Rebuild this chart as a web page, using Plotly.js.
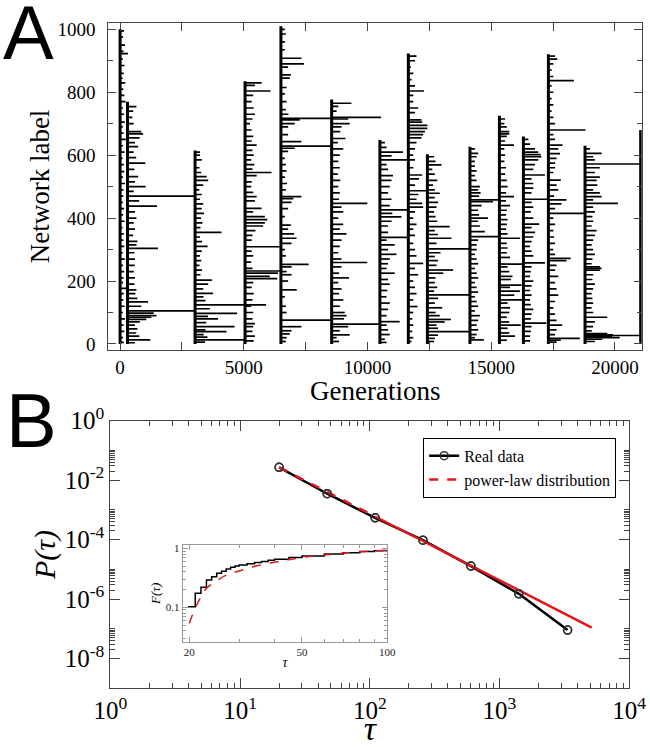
<!DOCTYPE html>
<html><head><meta charset="utf-8">
<script src="https://cdn.plot.ly/plotly-3.0.1.min.js"></script>
<style>body{margin:0;padding:0;background:#fff}#chart{width:650px;height:747px}</style>
</head><body><div id="chart"></div>
<script>
// ---------- Panel A: founding generation and top label of each column ----------
const colGen = [0, 300, 3030, 5050, 6500, 8550, 10500, 11650, 12420, 14140, 15330, 16300, 17310, 18790, 21040];
const colTop = [1000, 770, 615, 835, 1010, 777, 648, 923, 603, 627, 725, 659, 921, 630, 680];
// bars: [network label, lifetime in generations]
const barsC0 = [[995,160],[975,120],[950,200],[930,140],[923,320],[905,110],[885,180],[860,150],[845,100],[830,210],[810,130],[790,170],[770,220],[750,120],[730,160],[705,190],[690,110],[670,140],[650,230],[630,120],[610,180],[590,100],[570,150],[548,170],[530,120],[510,200],[490,140],[470,130],[450,110],[430,160],[410,120],[390,180],[370,100],[350,150],[330,130],[310,170],[290,110],[270,190],[250,120],[230,160],[210,140],[195,120],[177,300],[160,150],[140,130],[120,180],[100,110],[80,200],[60,140],[40,170],[20,120],[5,150]];
const barsC1 = [[754,360],[740,230],[720,200],[700,250],[675,560],[668,630],[655,490],[640,300],[627,430],[610,250],[592,350],[575,720],[555,280],[532,430],[515,300],[500,730],[485,250],[470,2730],[455,470],[438,1190],[420,300],[400,360],[385,250],[365,300],[345,230],[326,400],[315,360],[304,1230],[290,280],[270,300],[250,290],[230,250],[210,300],[190,280],[172,360],[160,320],[145,400],[134,830],[120,560],[105,2730],[98,1060],[90,1170],[85,960],[78,760],[70,500],[60,300],[48,400],[35,350],[25,480],[13,920],[4,300]];
const barsC2 = [[610,200],[600,200],[585,270],[560,180],[545,250],[532,470],[520,530],[505,330],[490,170],[475,270],[460,200],[445,330],[430,270],[415,360],[400,240],[385,300],[370,220],[355,1070],[340,200],[325,280],[310,510],[295,270],[280,200],[265,250],[250,180],[235,280],[220,220],[203,680],[190,530],[175,330],[161,730],[150,340],[138,420],[124,2870],[112,600],[97,1700],[88,520],[80,930],[68,450],[55,1600],[45,420],[39,1270],[30,350],[22,500],[13,2020],[6,400]];
const barsC3 = [[830,670],[822,400],[804,1030],[790,330],[770,270],[750,350],[730,400],[715,300],[700,200],[680,270],[660,330],[645,270],[632,470],[615,300],[600,350],[585,250],[570,370],[556,300],[545,1070],[535,470],[515,270],[500,250],[482,330],[468,470],[455,400],[431,670],[420,330],[405,800],[395,900],[385,800],[375,730],[360,420],[345,300],[330,270],[309,1450],[295,270],[280,330],[260,250],[240,300],[232,1450],[225,1330],[215,1000],[208,1300],[195,330],[180,270],[160,350],[140,300],[120,250],[100,330],[80,300],[65,400],[55,330],[40,300],[25,400],[10,350]];
const barsC4 = [[1000,160],[985,200],[960,160],[935,160],[908,830],[890,930],[880,290],[855,400],[845,360],[815,230],[795,160],[770,230],[745,200],[730,300],[717,2050],[712,760],[700,560],[690,290],[665,290],[643,830],[629,2050],[622,560],[612,290],[590,160],[570,200],[550,230],[530,160],[510,250],[490,200],[468,830],[462,500],[450,430],[430,290],[405,160],[378,400],[365,290],[350,530],[336,630],[320,430],[300,160],[280,200],[253,1120],[245,430],[230,230],[220,430],[200,290],[172,640],[150,160],[120,200],[100,230],[76,2050],[55,830],[42,430],[32,360],[20,230],[8,200]];
const barsC5 = [[765,800],[755,270],[740,200],[720,2000],[715,670],[700,730],[690,400],[675,350],[653,560],[640,250],[620,470],[600,330],[580,270],[560,330],[540,250],[520,350],[500,270],[480,330],[460,300],[447,1440],[435,400],[420,470],[400,270],[380,470],[365,330],[350,600],[330,400],[310,330],[290,270],[270,400],[259,1440],[245,400],[225,300],[210,700],[195,270],[175,400],[160,300],[140,470],[120,330],[100,530],[90,600],[80,500],[63,1950],[55,670],[42,330],[29,730],[20,200],[8,300]];
const barsC6 = [[640,200],[625,270],[610,930],[598,470],[585,1150],[570,270],[555,330],[535,530],[520,470],[500,400],[480,330],[460,470],[440,400],[426,1150],[415,500],[404,870],[390,470],[375,330],[355,330],[339,1150],[330,270],[315,600],[300,330],[285,670],[270,400],[255,330],[240,270],[225,600],[205,330],[190,400],[170,300],[150,270],[130,400],[110,330],[90,270],[71,800],[60,270],[45,330],[30,400],[15,200],[5,270]];
const barsC7 = [[915,330],[900,270],[880,100],[860,200],[840,130],[820,270],[804,630],[790,200],[770,200],[750,400],[735,270],[712,530],[705,560],[695,770],[685,770],[675,670],[665,600],[655,530],[640,330],[620,270],[600,200],[585,270],[560,200],[537,560],[525,430],[505,270],[487,770],[475,400],[460,330],[447,560],[435,600],[420,270],[400,200],[380,330],[365,200],[345,270],[320,200],[300,270],[280,330],[256,600],[240,270],[220,400],[200,200],[180,270],[160,330],[140,200],[119,370],[100,200],[80,160],[60,200],[40,160],[20,200],[8,130]];
const barsC8 = [[595,270],[580,330],[569,570],[555,200],[540,300],[520,400],[505,230],[490,300],[479,500],[465,300],[450,430],[435,370],[420,270],[405,330],[390,400],[373,900],[360,300],[348,430],[336,970],[320,370],[302,1720],[290,530],[278,300],[265,430],[250,370],[235,1040],[225,640],[210,330],[195,300],[180,400],[168,270],[156,1720],[145,430],[130,300],[115,600],[100,330],[90,500],[78,950],[70,700],[60,370],[50,430],[39,1720],[28,430],[18,300],[8,270]];
const barsC9 = [[620,200],[606,330],[595,270],[580,200],[565,200],[550,270],[535,200],[520,270],[500,400],[490,330],[480,430],[470,370],[458,1190],[452,930],[440,470],[425,330],[410,370],[400,730],[390,330],[375,400],[357,600],[341,1190],[330,330],[315,270],[300,270],[285,200],[270,270],[255,330],[240,200],[225,270],[210,330],[195,200],[180,270],[165,330],[150,200],[135,270],[120,330],[105,200],[90,400],[75,330],[60,270],[45,330],[30,270],[20,200],[13,560]];
const barsC10 = [[715,230],[700,200],[690,300],[675,400],[668,400],[660,300],[645,230],[632,590],[620,200],[600,230],[580,200],[560,270],[540,230],[520,300],[500,330],[480,270],[468,590],[455,270],[440,430],[425,300],[410,270],[395,330],[380,300],[365,270],[350,330],[336,830],[320,300],[305,330],[290,300],[275,430],[254,970],[245,330],[230,400],[215,530],[205,470],[187,890],[180,430],[168,830],[155,600],[140,970],[130,330],[115,430],[100,400],[85,300],[70,400],[60,860],[50,330],[35,400],[25,630],[12,300]];
const barsC11 = [[650,200],[635,270],[620,470],[610,600],[602,700],[595,730],[585,600],[570,470],[555,400],[537,870],[525,330],[510,400],[495,400],[480,330],[460,1010],[450,330],[435,400],[420,300],[400,400],[381,640],[370,330],[355,470],[340,400],[325,330],[310,270],[295,330],[280,400],[258,870],[245,330],[230,300],[215,270],[200,400],[185,330],[170,270],[155,330],[140,270],[125,300],[110,400],[95,330],[80,300],[66,930],[55,330],[40,300],[25,270],[10,270]];
const barsC12 = [[915,270],[905,360],[890,200],[870,130],[850,200],[837,1030],[820,130],[800,200],[780,130],[760,200],[740,130],[720,200],[700,270],[680,1500],[665,200],[650,270],[632,570],[620,400],[605,470],[590,330],[575,270],[560,270],[545,200],[521,500],[505,330],[490,400],[470,230],[458,730],[445,530],[430,270],[415,1480],[400,200],[380,270],[360,200],[340,230],[320,270],[300,200],[285,270],[272,900],[265,730],[250,330],[235,270],[215,400],[195,270],[175,330],[155,400],[135,270],[115,200],[95,270],[75,330],[60,560],[45,330],[30,270],[18,1270],[12,500],[6,330]];
const barsC13 = [[620,200],[606,670],[595,330],[585,400],[572,2250],[560,600],[545,400],[530,600],[520,470],[505,500],[490,330],[480,600],[468,670],[458,330],[447,1330],[435,330],[420,400],[405,300],[390,330],[375,270],[360,470],[345,400],[330,330],[315,270],[300,330],[285,400],[270,300],[255,270],[245,600],[240,670],[235,600],[220,330],[205,300],[190,400],[175,330],[160,270],[145,300],[130,330],[115,270],[100,330],[85,900],[70,400],[55,330],[42,270],[33,900],[29,1130],[27,2250],[23,1100],[20,1400],[15,700],[8,400]];
const barsC14 = [];
const barLists = [barsC0,barsC1,barsC2,barsC3,barsC4,barsC5,barsC6,barsC7,barsC8,barsC9,barsC10,barsC11,barsC12,barsC13,barsC14];
const genTicks = [0, 5000, 10000, 15000, 20000];
const genTickText = ['0', '5000', '10000', '15000', '20000'];
const labelTicks = [0, 200, 400, 600, 800, 1000];

// ---------- Panel B ----------
const tauReal = [20, 47, 110, 257, 602, 1410, 3350];
const pReal = [2.7e-2, 3.5e-3, 5.4e-4, 9.6e-5, 1.29e-5, 1.5e-6, 9.1e-8];
const tauFitA = [20, 50, 110];
const pFitA = [2.7e-2, 3.5e-3, 6.0e-4];
const tauFitB = [110, 200, 500, 1000, 2000, 5140];
const pFitB = [6.0e-4, 1.57e-4, 2.0e-5, 4.3e-6, 9.1e-7, 1.1e-7];
const tauTicks = [1, 10, 100, 1000, 10000];
const tauTickText = ['10<sup>0</sup>', '10<sup>1</sup>', '10<sup>2</sup>', '10<sup>3</sup>', '10<sup>4</sup>'];
const pTicks = [1, 1e-2, 1e-4, 1e-6, 1e-8];
const pTickText = ['10<sup>0</sup>', '10<sup>-2</sup>', '10<sup>-4</sup>', '10<sup>-6</sup>', '10<sup>-8</sup>'];
// inset: cumulative distribution
const tauCdf = [19.8, 21, 22, 23, 24, 25, 26, 27, 28, 29, 30, 32, 34, 36, 38, 40, 45, 50, 60, 70, 80, 90, 100];
const fCdf = [0.102, 0.173, 0.218, 0.29, 0.33, 0.377, 0.41, 0.446, 0.476, 0.50, 0.52, 0.55, 0.575, 0.60, 0.63, 0.655, 0.70, 0.74, 0.80, 0.845, 0.88, 0.91, 0.935];
const tauFitCdf = [20, 21, 22, 23, 25, 27.1, 30.2, 35.6, 43, 50, 68, 100];
const fFitCdf = [0.0535, 0.096, 0.151, 0.21, 0.283, 0.353, 0.417, 0.52, 0.617, 0.70, 0.82, 0.935];
const insetXTicks = [20, 50, 100];
const insetXTickText = ['20', '50', '100'];
const insetYTicks = [0.1, 1];
const insetYTickText = ['0.1', '1'];

// ---------- build panel A segments ----------
const bx = [], by = [];
barLists.forEach((list, k) => {
  const g = colGen[k];
  list.forEach(([lab, len]) => { bx.push(g, g + len, null); by.push(lab, lab, null); });
});
const vx = [], vy = [];
colGen.forEach((g, k) => { vx.push(g, g, null); vy.push(0, colTop[k], null); });

const SERIF = 'Liberation Serif, Times New Roman, serif';
const SANS = 'Liberation Sans, Arial, sans-serif';
const decMinor = [];
[1, 10, 100, 1000].forEach(d => { for (let m = 2; m <= 9; m++) decMinor.push(m * d); });
const pMinor = [];
[1e-2, 1e-4, 1e-6, 1e-8].forEach(d => { for (let m = 2; m <= 10; m++) pMinor.push(m * d); });
const insetXMinor = [30, 40, 60, 70, 80, 90];
const insetYMinor = [];
[0.01, 0.1].forEach(d => { for (let m = 2; m <= 9; m++) insetYMinor.push(m * d); });

const traces = [
  {x: bx, y: by, xaxis: 'x', yaxis: 'y', mode: 'lines', line: {color: '#000', width: 1.7}, showlegend: false, hoverinfo: 'skip'},
  {x: vx, y: vy, xaxis: 'x', yaxis: 'y', mode: 'lines', line: {color: '#000', width: 3}, showlegend: false, hoverinfo: 'skip'},
  {x: tauReal, y: pReal, xaxis: 'x2', yaxis: 'y2', mode: 'lines+markers', name: 'Real data',
   line: {color: '#000', width: 2.5}, marker: {symbol: 'circle-open', size: 8, color: '#333', line: {width: 1.5}}},
  {x: tauFitA, y: pFitA, xaxis: 'x2', yaxis: 'y2', mode: 'lines', name: 'power-law distribution',
   line: {color: '#e3161b', width: 2.5, dash: 'dash'}},
  {x: tauFitB, y: pFitB, xaxis: 'x2', yaxis: 'y2', mode: 'lines', showlegend: false,
   line: {color: '#e3161b', width: 2.5}},
  {x: tauReal, y: pReal, xaxis: 'x2', yaxis: 'y2', mode: 'markers', showlegend: false,
   marker: {symbol: 'circle-open', size: 8, color: '#333', line: {width: 1.5}}},
  {x: tauCdf, y: fCdf, xaxis: 'x3', yaxis: 'y3', mode: 'lines', line: {color: '#000', width: 1.5, shape: 'hv'}, showlegend: false},
  {x: tauFitCdf, y: fFitCdf, xaxis: 'x3', yaxis: 'y3', mode: 'lines', line: {color: '#e3161b', width: 1.5, dash: 'dash', shape: 'spline'}, showlegend: false}
];

const axBase = {showgrid: false, zeroline: false, showline: true, linecolor: '#444', linewidth: 1,
  ticks: 'inside', tickcolor: '#444', mirror: 'ticks'};

const layout = {
  width: 650, height: 747, margin: {l: 0, r: 0, t: 0, b: 0},
  paper_bgcolor: '#fff', plot_bgcolor: '#fff',
  font: {family: SERIF, color: '#000'},
  showlegend: true,
  legend: {x: 0.651, y: 0.414, xanchor: 'left', yanchor: 'top', bordercolor: '#000', borderwidth: 1,
    bgcolor: '#fff', font: {family: SERIF, size: 16}, tracegroupgap: 0},
  xaxis: Object.assign({}, axBase, {domain: [0.1666, 0.9872], anchor: 'y', range: [-477, 21080],
    tickmode: 'array', tickvals: genTicks, ticktext: genTickText, ticklen: 8, tickwidth: 1,
    tickfont: {family: SERIF, size: 19},
    minor: {ticks: 'inside', ticklen: 8, tickcolor: '#444', dtick: 2500, tick0: 0}}),
  yaxis: Object.assign({}, axBase, {domain: [0.5315, 0.9692], anchor: 'x', range: [-19, 1020],
    tickmode: 'array', tickvals: labelTicks, ticklen: 8, tickwidth: 1, ticklabelstandoff: 8,
    tickfont: {family: SERIF, size: 19},
    minor: {ticks: 'inside', ticklen: 5, tickcolor: '#444', dtick: 100, tick0: 0},
    title: {text: 'Network label', font: {family: SERIF, size: 27}, standoff: 0}}),
  xaxis2: Object.assign({}, axBase, {domain: [0.1698, 0.968], anchor: 'y2', type: 'log', range: [0, 4],
    tickmode: 'array', tickvals: tauTicks, ticktext: tauTickText, ticklen: 10,
    tickfont: {family: SERIF, size: 25},
    minor: {ticks: 'inside', ticklen: 5, tickcolor: '#444', tickmode: 'array', tickvals: decMinor},
    title: {text: 'τ', font: {family: SERIF, size: 34, style: 'italic'}, standoff: 6}}),
  yaxis2: Object.assign({}, axBase, {domain: [0.0786, 0.4368], anchor: 'x2', type: 'log', range: [-9, 0],
    tickmode: 'array', tickvals: pTicks, ticktext: pTickText, ticklen: 10,
    tickfont: {family: SERIF, size: 25},
    minor: {ticks: 'inside', ticklen: 5, tickcolor: '#444', tickmode: 'array', tickvals: pMinor},
    title: {text: 'P(τ)', font: {family: SERIF, size: 30, style: 'italic'}, standoff: 0}}),
  xaxis3: Object.assign({}, axBase, {domain: [0.2811, 0.5958], anchor: 'y3', type: 'log', range: [1.278, 2.0],
    linecolor: '#999', tickcolor: '#999',
    tickmode: 'array', tickvals: insetXTicks, ticktext: insetXTickText, ticklen: 5,
    tickfont: {family: SERIF, size: 11, color: '#222'},
    minor: {ticks: 'inside', ticklen: 3, tickcolor: '#999', tickmode: 'array', tickvals: insetXMinor},
    title: {text: 'τ', font: {family: SERIF, size: 14, style: 'italic'}, standoff: 0}}),
  yaxis3: Object.assign({}, axBase, {domain: [0.1410, 0.2704], anchor: 'x3', type: 'log', range: [-1.583, 0.056],
    linecolor: '#999', tickcolor: '#999',
    tickmode: 'array', tickvals: insetYTicks, ticktext: insetYTickText, ticklen: 5,
    tickfont: {family: SERIF, size: 11, color: '#222'},
    minor: {ticks: 'inside', ticklen: 3, tickcolor: '#999', tickmode: 'array', tickvals: insetYMinor},
    title: {text: 'F(τ)', font: {family: SERIF, size: 13, style: 'italic'}, standoff: 2}}),
  annotations: [
    {text: 'Generations', xref: 'paper', yref: 'paper', x: 0.577, y: 1 - 391 / 747, xanchor: 'center', yanchor: 'middle',
     showarrow: false, font: {family: SERIF, size: 27, color: '#000'}},
    {text: 'A', xref: 'paper', yref: 'paper', x: 0.002, y: 1.0, yshift: 12, xanchor: 'left', yanchor: 'top', showarrow: false,
     font: {family: SANS, size: 76, color: '#000'}},
    {text: 'B', xref: 'paper', yref: 'paper', x: 0.006, y: 0.496, xanchor: 'left', yanchor: 'top', showarrow: false,
     font: {family: SANS, size: 76, color: '#000'}}
  ]
};

Plotly.newPlot('chart', traces, layout, {displayModeBar: false, staticPlot: true});
</script>
</body></html>
